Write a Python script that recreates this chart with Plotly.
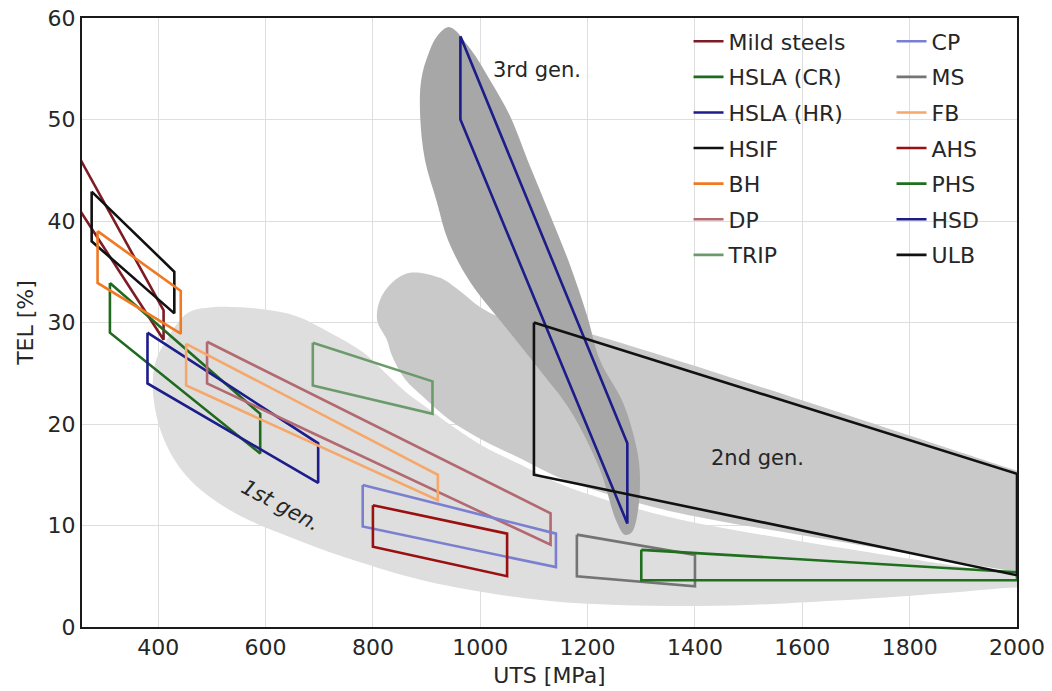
import plotly.graph_objects as go

# Axis settings
UTS_RANGE = [258, 2000]
TEL_RANGE = [0, 60]
X_TICKS = [400, 600, 800, 1000, 1200, 1400, 1600, 1800, 2000]
Y_TICKS = [0, 10, 20, 30, 40, 50, 60]

# Steel generation envelopes (UTS in MPa, TEL in %)
gen1_uts = [720, 781, 822, 860, 906, 953, 1009, 1079, 1143, 1236, 1372, 1683, 2000, 2060,
            2060, 2000, 1869, 1683, 1409, 1130, 906, 781, 659, 534, 454, 409, 390, 396,
            416, 454, 502, 595, 659]
gen1_tel = [29.0, 27.1, 25.1, 23.2, 21.4, 19.6, 17.7, 15.9, 14.2, 12.5, 10.6, 7.7, 5.1, 4.6,
            3.8, 3.9, 3.35, 2.66, 2.07, 2.56, 4.43, 6.3, 8.57, 11.5, 14.8, 18.7, 23.3, 26.3,
            28.3, 30.9, 31.5, 31.3, 30.6]

gen2_uts = [869, 925, 962, 1000, 1040, 1098, 2000, 2060, 2060, 2000, 1683, 1372, 1236,
            1143, 1079, 1005, 943, 893, 860, 835, 826, 808, 813, 835]
gen2_tel = [34.9, 34.4, 33.1, 31.5, 30.5, 30.35, 15.4, 14.4, 4.85, 5.4, 8.3, 11.2, 13.1,
            14.8, 16.5, 18.4, 20.4, 22.7, 24.4, 26.8, 28.3, 30.2, 32.2, 33.9]

gen3_uts = [943, 981, 1018, 1055, 1092, 1130, 1167, 1199, 1223, 1266, 1288, 1297, 1294,
            1282, 1269, 1253, 1223, 1167, 1111, 1037, 981, 940, 919, 897, 888, 890, 903, 921]
gen3_tel = [59.1, 57.0, 53.9, 50.4, 45.5, 40.6, 35.7, 30.7, 26.3, 22.1, 18.4, 15.5, 11.5,
            9.3, 9.1, 10.5, 15.5, 21.4, 25.3, 30.2, 34.0, 38.1, 41.9, 46.0, 50.4, 53.9, 56.4, 58.3]

# Grade windows: four corner points each (UTS in MPa, TEL in %)
mild_uts = [240, 410, 410, 240]
mild_tel = [47.5, 31.2, 28.3, 42.2]
hsla_cr_uts = [310, 590, 590, 310]
hsla_cr_tel = [33.9, 21.0, 17.1, 29.0]
hsla_hr_uts = [380, 698, 698, 380]
hsla_hr_tel = [29.0, 18.1, 14.2, 24.0]
hsif_uts = [276, 430, 430, 276]
hsif_tel = [42.9, 35.0, 30.9, 38.0]
bh_uts = [287, 442, 442, 287]
bh_tel = [39.0, 33.1, 28.9, 33.9]
dp_uts = [491, 1131, 1131, 491]
dp_tel = [28.1, 11.2, 8.1, 24.0]
trip_uts = [688, 911, 911, 688]
trip_tel = [28.0, 24.2, 21.0, 23.8]
cp_uts = [781, 1141, 1141, 781]
cp_tel = [14.0, 9.2, 5.9, 9.9]
ms_uts = [1180, 1400, 1400, 1180]
ms_tel = [9.1, 7.1, 4.0, 5.0]
fb_uts = [452, 921, 921, 452]
fb_tel = [27.9, 15.0, 12.5, 23.8]
ahs_uts = [800, 1050, 1050, 800]
ahs_tel = [12.0, 9.2, 5.0, 7.9]
phs_uts = [1300, 2000, 2000, 1300]
phs_tel = [7.6, 5.4, 4.6, 4.6]
hsd_uts = [963, 1274, 1274, 963]
hsd_tel = [58.2, 18.1, 10.2, 50.0]
ulb_uts = [1100, 2000, 2000, 1100]
ulb_tel = [30.0, 15.1, 5.1, 15.0]

FONT = "DejaVu Sans"
TEXT = "#262626"

fig = go.Figure()

# Generation envelopes
for xs, ys, color in [
    (gen1_uts, gen1_tel, "#dedede"),
    (gen2_uts, gen2_tel, "#c9c9c9"),
    (gen3_uts, gen3_tel, "#a7a7a7"),
]:
    fig.add_trace(go.Scatter(
        x=xs + xs[:1], y=ys + ys[:1], mode="lines", fill="toself",
        fillcolor=color, line=dict(color=color, width=0, shape="spline", smoothing=1),
        hoverinfo="skip", showlegend=False,
    ))

grades_left = [
    ("Mild steels", mild_uts, mild_tel, "#7d1c24"),
    ("HSLA (CR)", hsla_cr_uts, hsla_cr_tel, "#1f6a1f"),
    ("HSLA (HR)", hsla_hr_uts, hsla_hr_tel, "#1c1c8a"),
    ("HSIF", hsif_uts, hsif_tel, "#111111"),
    ("BH", bh_uts, bh_tel, "#f07a24"),
    ("DP", dp_uts, dp_tel, "#b26a70"),
    ("TRIP", trip_uts, trip_tel, "#6b9b6b"),
]
grades_right = [
    ("CP", cp_uts, cp_tel, "#7b7fcf"),
    ("MS", ms_uts, ms_tel, "#747474"),
    ("FB", fb_uts, fb_tel, "#f6a76a"),
    ("AHS", ahs_uts, ahs_tel, "#9a1010"),
    ("PHS", phs_uts, phs_tel, "#1f6f1f"),
    ("HSD", hsd_uts, hsd_tel, "#1c1c8a"),
    ("ULB", ulb_uts, ulb_tel, "#111111"),
]

for legend_id, grades in (("legend", grades_left), ("legend2", grades_right)):
    for name, xs, ys, color in grades:
        fig.add_trace(go.Scatter(
            x=xs + xs[:1], y=ys + ys[:1], mode="lines", name=name,
            line=dict(color=color, width=2.6), legend=legend_id,
            legendgroup=name, hoverinfo="name",
        ))

legend_style = dict(
    font=dict(family=FONT, size=22, color=TEXT), bgcolor="rgba(0,0,0,0)",
    borderwidth=0, xanchor="left", yanchor="top", traceorder="grouped",
    tracegroupgap=4, itemwidth=30,
)

fig.update_layout(
    width=1052, height=691,
    margin=dict(l=82, r=35, t=18, b=64),
    paper_bgcolor="white", plot_bgcolor="white",
    font=dict(family=FONT, size=22, color=TEXT),
    legend=dict(x=0.6487, y=0.996, **legend_style),
    legend2=dict(x=0.8658, y=0.996, **legend_style),
    xaxis=dict(
        range=UTS_RANGE, tickvals=X_TICKS, showgrid=True, gridcolor="#dedede",
        gridwidth=1, showline=True, linecolor="#1a1a1a", linewidth=2, mirror=True,
        ticks="", zeroline=False, tickfont=dict(size=22), automargin=False,
        title=dict(text="UTS [MPa]", font=dict(size=22), standoff=8),
    ),
    yaxis=dict(
        range=TEL_RANGE, tickvals=Y_TICKS, showgrid=True, gridcolor="#dedede",
        gridwidth=1, showline=True, linecolor="#1a1a1a", linewidth=2, mirror=True,
        ticks="", zeroline=False, tickfont=dict(size=22), automargin=False,
        title=dict(text="TEL [%]", font=dict(size=22), standoff=8),
    ),
    annotations=[
        dict(x=1105, y=54.9, text="3rd gen.", showarrow=False,
             font=dict(size=21, color=TEXT)),
        dict(x=1517, y=16.7, text="2nd gen.", showarrow=False,
             font=dict(size=21, color=TEXT)),
        dict(x=627, y=12.0, text="1st gen.", showarrow=False, textangle=28,
             font=dict(size=21, color=TEXT, style="italic")),
    ],
)

fig.write_html("out.html")
